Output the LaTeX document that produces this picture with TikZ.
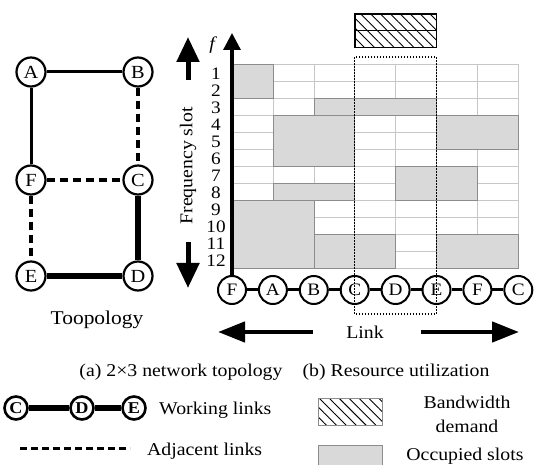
\documentclass[tikz,border=0pt]{standalone}
\usepackage{fontspec}
\setmainfont[FakeStretch=1.1]{Liberation Serif}
\usetikzlibrary{arrows.meta,patterns.meta}
\begin{document}
\begin{tikzpicture}[x=1pt,y=-1pt,
  every node/.style={font=\fontsize{18}{20}\selectfont},
  tnode/.style={circle,draw,line width=2.2pt,fill=white,minimum size=29pt,inner sep=0pt,font=\fontsize{18.5}{18}\selectfont},
  lnode/.style={circle,draw,line width=2pt,fill=white,minimum size=28pt,inner sep=0pt,font=\fontsize{17.5}{17}\selectfont},
  gnode/.style={circle,draw,line width=2.6pt,fill=white,minimum size=23pt,inner sep=0pt,font=\fontsize{16.5}{16}\selectfont\bfseries},
  gridln/.style={draw=black!22,line width=0.6pt,fill=white},
  occ/.style={draw=black!45,line width=0.6pt,fill=black!15},
  adj/.style={line width=3.2pt,dash pattern=on 8pt off 5pt},
  hatch/.style={pattern={Lines[angle=-45,distance=7pt,line width=0.9pt]}},
  bigarrow/.style={line width=5pt,-{Triangle[length=25pt,width=22pt]}},
  linkarrow/.style={line width=4.5pt,-{Triangle[length=27pt,width=20pt]}},
  lbl/.style={anchor=base,inner sep=0pt}
]
\useasboundingbox (0,0) rectangle (552,465);
\fill[white] (0,0) rectangle (552,465);

% ---------- topology ----------
\node[tnode] (A) at (31,72) {A};
\node[tnode] (B) at (138,72) {B};
\node[tnode] (F) at (31,180) {F};
\node[tnode] (C) at (138,180) {C};
\node[tnode] (E) at (31,276) {E};
\node[tnode] (D) at (138,276) {D};
\draw[line width=3pt] (A) -- (B);
\draw[line width=3pt] (A) -- (F);
\draw[adj] (B) -- (C);
\draw[adj] (F) -- (C);
\draw[adj] (F) -- (E);
\draw[line width=6.5pt] (C) -- (D);
\draw[line width=6.5pt] (E) -- (D);
\node[lbl,font=\fontsize{19.5}{20}\selectfont] (topo) at (97,325) {Toopology};

% ---------- frequency axis labels ----------
\node[rotate=90] (fs) at (188,166) {Frequency slot};
\coordinate (up0) at (188,80);
\coordinate (up1) at (188,37);
\coordinate (dn0) at (188,242);
\coordinate (dn1) at (188,288);
\draw[bigarrow] (up0) -- (up1);
\draw[bigarrow] (dn0) -- (dn1);
\foreach \n in {1,...,12}
  \node[font=\fontsize{17.5}{17.5}\selectfont,inner sep=0pt] (num\n) at (216,64+17*\n-7.5) {\n};
\node[font=\fontsize{18}{18}\selectfont\itshape,lbl] (flbl) at (212,50) {f};

% ---------- grid ----------
\foreach \c in {0,...,6}
  \foreach \r in {0,...,11}
    \draw[gridln] (232+40.9*\c,64+17*\r) rectangle ++(40.9,17);
\foreach \c/\r/\w/\h in {0/0/1/2, 2/2/3/1, 1/3/2/3, 5/3/2/2, 1/7/2/1, 4/6/2/2, 0/8/2/4, 2/10/2/2, 5/10/2/2}
  \draw[occ] (232+40.9*\c,64+17*\r) rectangle ++(40.9*\w,17*\h);

% ---------- link row ----------
\foreach \n [count=\i from 0] in {F,A,B,C,D,E,F,C}
  \node[lnode] (l\i) at (232+40.9*\i,290) {\n};
\foreach \i [evaluate=\i as \j using int(\i+1)] in {0,...,6}
  \draw[line width=3pt] (l\i) -- (l\j);

% axis
\coordinate (atop) at (232,33);
\draw[line width=3.2pt,-{Triangle[length=17pt,width=17pt]}] (l0.north) -- (atop);

% dotted window
\draw[line width=1.2pt,dash pattern=on 1.6pt off 1.4pt] (354.7,57) rectangle (436.5,314);

% bandwidth demand block
\draw[line width=1.6pt,hatch] (354.7,14) rectangle (436.5,30.5);
\draw[line width=1.6pt,hatch] (354.7,30.5) rectangle (436.5,47.5);

% link arrows
\coordinate (la0) at (313,332);
\coordinate (la1) at (218,332);
\coordinate (ra0) at (421,332);
\coordinate (ra1) at (519,332);
\draw[linkarrow] (la0) -- (la1);
\draw[linkarrow] (ra0) -- (ra1);
\node[lbl] (link) at (365,338) {Link};

% ---------- captions ----------
\node[lbl] (capa) at (181,376) {(a) 2\texttimes3 network topology};
\node[lbl] (capb) at (396,376) {(b) Resource utilization};

% ---------- legend ----------
\node[gnode] (gC) at (16,408) {C};
\node[gnode] (gD) at (82,408) {D};
\node[gnode] (gE) at (134,408) {E};
\draw[line width=5.5pt] (gC) -- (gD);
\draw[line width=5.5pt] (gD) -- (gE);
\node[lbl,anchor=base west] (work) at (159,414) {Working links};

\coordinate (ad0) at (20,448);
\coordinate (ad1) at (130,448);
\draw[line width=3pt,dash pattern=on 7pt off 4pt] (ad0) -- (ad1);
\node[lbl,anchor=base west] (adjl) at (147,455) {Adjacent links};

\draw[draw=black!45,line width=0.6pt,hatch] (318,398) rectangle (382,425);
\node[lbl] (bw1) at (467,408) {Bandwidth};
\node[lbl] (bw2) at (467,432) {demand};

\draw[occ] (318,445) rectangle (382,475);
\node[lbl] (occl) at (465,460) {Occupied slots};
\end{tikzpicture}
\end{document}
